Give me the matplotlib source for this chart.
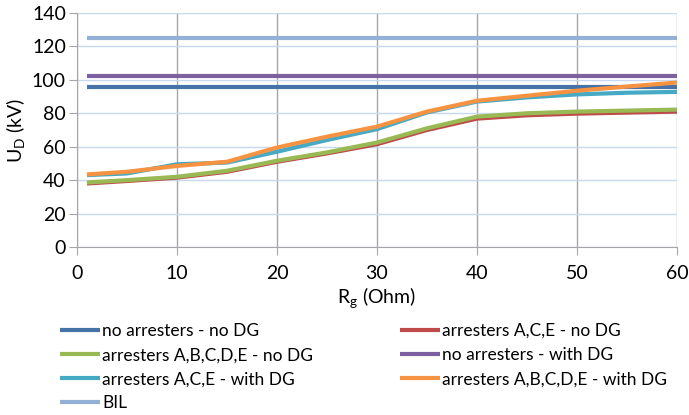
import matplotlib
matplotlib.use("Agg")
import matplotlib.pyplot as plt

plt.rcParams["font.family"] = ["Lato", "DejaVu Sans"]
plt.rcParams["mathtext.fontset"] = "custom"
plt.rcParams["mathtext.rm"] = "Lato"

rg = [1, 5, 10, 15, 20, 25, 30, 35, 40, 45, 50, 55, 60]
no_arr_no_dg = [95.5] * len(rg)
ace_no_dg = [38.0, 39.5, 41.5, 45.0, 51.0, 56.0, 61.5, 70.0, 76.8, 78.8, 79.8, 80.4, 81.0]
abcde_no_dg = [38.6, 40.0, 42.0, 45.6, 51.6, 56.6, 62.5, 71.0, 78.0, 80.0, 81.0, 81.6, 82.2]
no_arr_dg = [102.6] * len(rg)
ace_dg = [43.0, 44.0, 49.5, 50.5, 57.0, 64.0, 70.5, 80.5, 87.0, 89.5, 91.3, 92.3, 92.8]
abcde_dg = [43.4, 45.0, 48.5, 51.0, 59.5, 66.0, 72.0, 81.0, 87.5, 90.5, 93.5, 96.0, 98.4]
bil = [125.0] * len(rg)

labels = ["no arresters - no DG", "arresters A,C,E - no DG", "arresters A,B,C,D,E - no DG",
          "no arresters - with DG", "arresters A,C,E - with DG", "arresters A,B,C,D,E - with DG", "BIL"]
series = [no_arr_no_dg, ace_no_dg, abcde_no_dg, no_arr_dg, ace_dg, abcde_dg, bil]
colors = ["#4572A7", "#BE4B48", "#98B954", "#7D60A0", "#46AAC5", "#F59342", "#93B1D6"]

fig = plt.figure(figsize=(6.89, 4.15), dpi=100)
ax = fig.add_axes([77 / 689, 1 - 247 / 415, 600 / 689, 234 / 415])

lines = []
for ys, c, lab in zip(series, colors, labels):
    ln, = ax.plot(rg, ys, color=c, lw=3, label=lab, solid_capstyle="butt")
    lines.append(ln)

ax.set_xlim(0, 60)
ax.set_ylim(0, 140)
ax.set_xticks(range(0, 61, 10))
ax.set_yticks(range(0, 141, 20))
ax.yaxis.grid(True, color="#c6d9f1", lw=1)
ax.xaxis.grid(True, color="#a6a6a6", lw=1)
ax.set_axisbelow(True)
for s in ["top", "right"]:
    ax.spines[s].set_visible(False)
for s in ["left", "bottom"]:
    ax.spines[s].set_color("#a6a6a6")
ax.tick_params(length=6, color="#a6a6a6", labelsize=14, pad=2)
ax.tick_params(axis="x", pad=7)
ax.set_xlabel(r"R$_\mathrm{g}$ (Ohm)", fontsize=14, labelpad=3)
ax.set_ylabel(r"U$_\mathrm{D}$ (kV)", fontsize=14, labelpad=3)

kw = dict(frameon=False, fontsize=12.5, handlelength=2.3, handletextpad=0.12,
          labelspacing=0.47, borderpad=0, borderaxespad=0, loc="upper left")
leg1 = fig.legend([lines[i] for i in (0, 2, 4, 6)], [labels[i] for i in (0, 2, 4, 6)],
                  bbox_to_anchor=(60 / 689, 1 - 323 / 415), **kw)
leg2 = fig.legend([lines[i] for i in (1, 3, 5)], [labels[i] for i in (1, 3, 5)],
                  bbox_to_anchor=(400 / 689, 1 - 323 / 415), **kw)

fig.savefig("out.png", dpi=100)
